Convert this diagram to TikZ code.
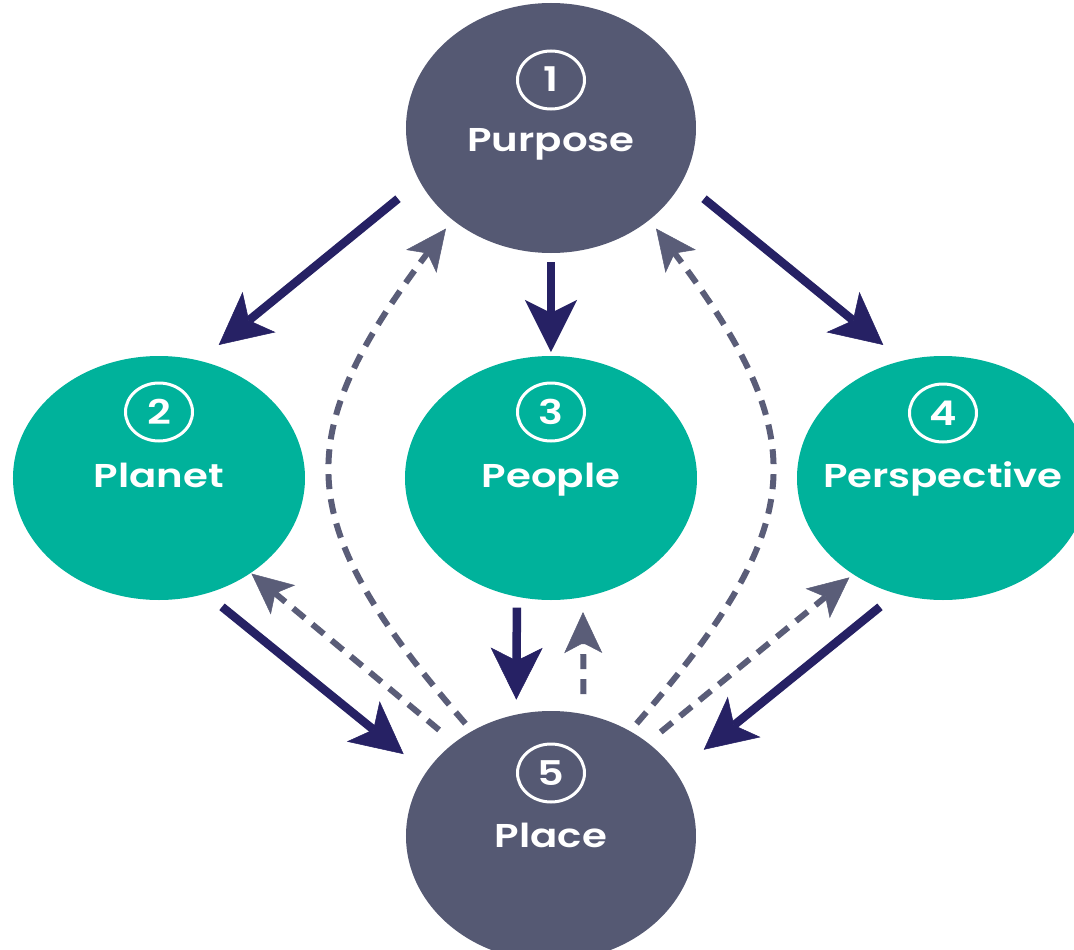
\documentclass[tikz,border=0pt]{standalone}
\usepackage{fontspec}
\newfontfamily\stagefont{Poppins SemiBold}[FakeStretch=1.22]
\usepackage{tikz}
\usetikzlibrary{positioning,arrows.meta,shapes.geometric}

\definecolor{hubgrey}{HTML}{555973}
\definecolor{spokegreen}{HTML}{00B29B}
\definecolor{navy}{HTML}{262164}
\definecolor{dashgrey}{HTML}{5A5D78}

\begin{document}
\begin{tikzpicture}[x=1pt,y=1pt,on grid]

  \tikzset{
    hub/.style={ellipse,fill=hubgrey,minimum width=290pt,minimum height=250pt,inner sep=0pt,outer sep=0pt},
    spoke/.style={ellipse,fill=spokegreen,minimum width=292pt,minimum height=244pt,inner sep=0pt,outer sep=0pt},
    ring/.style={ellipse,draw=white,line width=3pt,minimum width=67pt,minimum height=58pt,inner sep=0pt,
      text=white,font=\stagefont\fontsize{34}{34}\selectfont,text height=24pt,text depth=0pt},
    stagename/.style={inner sep=0pt,text=white,font=\stagefont\fontsize{33}{33}\selectfont,
      text height=23pt,text depth=0pt},
    flow/.style={draw=navy,line width=8.5pt,-{Stealth[length=52pt,width=52pt,inset=13pt,line width=0.5pt]}},
    back/.style={draw=dashgrey,line width=6pt,dash pattern=on 15pt off 10pt,
      -{Stealth[length=41pt,width=38pt,inset=10pt,line width=0.5pt]}},
  }

  \path[use as bounding box,fill=white] (-551,-822) rectangle (523,128);

  % the five stages
  \node[hub] (purpose) {};
  \node[spoke] (people) [below=350pt of purpose] {};
  \node[spoke] (planet) [left=392pt of people] {};
  \node[spoke] (perspective) [right=392pt of people] {};
  \node[hub] (place) [below=358pt of people] {};

  \node[ring] (purpose-num) [above=48pt of purpose] {1};
  \node[stagename] (purpose-name) [below=12pt of purpose] {Purpose};
  \node[ring] (planet-num) [above=66pt of planet] {2};
  \node[stagename] (planet-name) [above=2pt of planet] {Planet};
  \node[ring] (people-num) [above=66pt of people] {3};
  \node[stagename] (people-name) [above=2pt of people] {People};
  \node[ring] (perspective-num) [above=65pt of perspective] {4};
  \node[stagename] (perspective-name) [above=2pt of perspective] {Perspective};
  \node[ring] (place-num) [above=63pt of place] {5};
  \node[stagename] (place-name) at (place) {Place};

  % forward arrows
  \draw[flow,shorten <=28pt,shorten >=25pt] (purpose.202) -- (planet.71);
  \draw[flow,shorten <=9pt,shorten >=4pt] (purpose.270) -- (people.90);
  \draw[flow,shorten <=28pt,shorten >=25pt] (purpose.338) -- (perspective.109);
  \draw[flow,shorten <=21pt,shorten >=29pt] (planet.292) -- (place.153);
  \draw[flow,shorten <=11pt,shorten >=15pt] (people.254) -- (place.106);
  \draw[flow,shorten <=21pt,shorten >=36pt] (perspective.248) -- (place.27);

  % feedback from place
  \draw[back,shorten <=20pt,shorten >=1pt] (place.136) -- (planet.314);
  \draw[back,shorten <=20pt,shorten >=15pt] (place.75) -- (people.285);
  \draw[back,shorten <=17pt,shorten >=5pt] (place.44) -- (perspective.227);
  \draw[back,shorten <=10pt,shorten >=11pt] (place.127) to[out=131,in=233,looseness=1.37] (purpose.223);
  \draw[back,shorten <=10pt,shorten >=11pt] (place.53) to[out=49,in=307,looseness=1.37] (purpose.317);

\end{tikzpicture}
\end{document}
